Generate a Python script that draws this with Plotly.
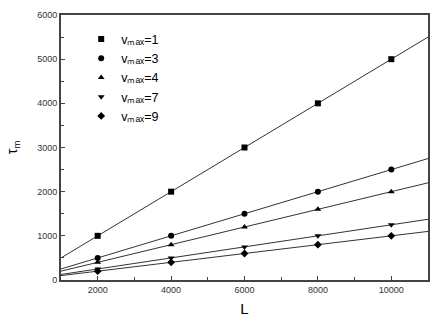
import numpy as np
import plotly.graph_objects as go

L = [2000, 4000, 6000, 8000, 10000]
tau_v1 = [1000, 2000, 3000, 4000, 5000]
tau_v3 = [500, 1000, 1500, 2000, 2500]
tau_v4 = [400, 800, 1200, 1600, 2000]
tau_v7 = [250, 500, 750, 1000, 1250]
tau_v9 = [200, 400, 600, 800, 1000]

series = [
    ("vₘₐₓ=1", tau_v1, "square"),
    ("vₘₐₓ=3", tau_v3, "circle"),
    ("vₘₐₓ=4", tau_v4, "triangle-up"),
    ("vₘₐₓ=7", tau_v7, "triangle-down"),
    ("vₘₐₓ=9", tau_v9, "diamond"),
]

x_range = [1000, 11000]
x_ticks = [2000, 4000, 6000, 8000, 10000]

fig = go.Figure()

# linear fits drawn across the whole axis
for name, y, sym in series:
    k, b = np.polyfit(L, y, 1)
    xs = np.array(x_range)
    fig.add_scatter(x=xs, y=k * xs + b, mode="lines",
                    line=dict(color="#333", width=1), showlegend=False, hoverinfo="skip")

for name, y, sym in series:
    fig.add_scatter(x=L, y=y, mode="markers", name=name,
                    marker=dict(symbol=sym, size=6, color="black"))

fig.update_layout(
    width=446, height=327,
    margin=dict(l=61, r=18, t=15, b=47, autoexpand=False),
    paper_bgcolor="white", plot_bgcolor="white",
    font=dict(family="Liberation Sans, Arial", color="#333"),
    legend=dict(x=0.055, y=0.965, xanchor="left", yanchor="top",
                bgcolor="rgba(0,0,0,0)", font=dict(size=12.5, color="black"),
                tracegroupgap=0, itemwidth=30),
)
fig.update_xaxes(
    range=x_range, tickvals=x_ticks, ticktext=[str(v) for v in x_ticks],
    ticks="inside", ticklen=4, tickcolor="#444",
    minor=dict(tickvals=[1000, 3000, 5000, 7000, 9000, 11000], ticks="inside", ticklen=3, tickcolor="#444"),
    showline=True, linecolor="#444", linewidth=2, mirror=True, automargin=False,
    showgrid=False, zeroline=False, tickfont=dict(size=9),
    title=dict(text="L", font=dict(size=15, color="black"), standoff=10),
)
fig.update_yaxes(
    range=[0, 6000], tickvals=[0, 1000, 2000, 3000, 4000, 5000, 6000],
    ticks="inside", ticklen=4, tickcolor="#444",
    minor=dict(dtick=500, ticks="inside", ticklen=3, tickcolor="#444"),
    showline=True, linecolor="#444", linewidth=2, mirror=True, automargin=False,
    showgrid=False, zeroline=False, tickfont=dict(size=9),
    title=dict(text="τ<sub>m</sub>", font=dict(size=14, color="black"), standoff=16),
)

# drop the default page margin so the chart sits at the window corner
fig.write_html("out.html", config={"displayModeBar": False},
               post_script="document.body.style.margin='0';")
